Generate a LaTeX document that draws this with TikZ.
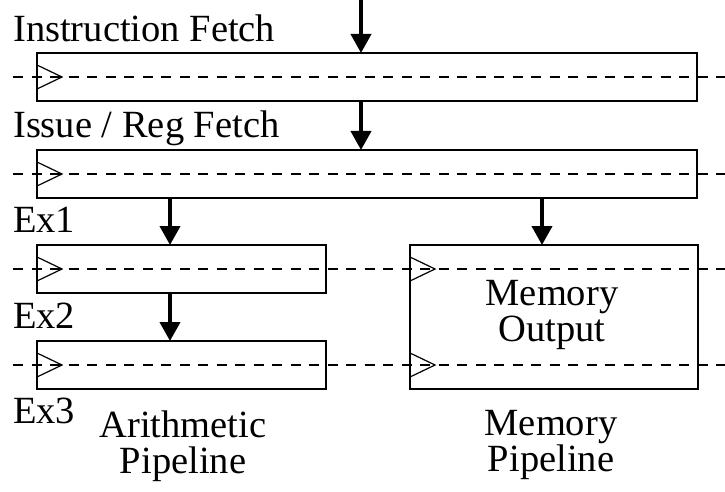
\documentclass[tikz,border=0pt]{standalone}
\usepackage{fontspec}
\setmainfont{Liberation Serif}
\usetikzlibrary{arrows.meta}
\begin{document}
\begin{tikzpicture}[x=1pt,y=-1pt,
  reg/.style={draw, line width=1.5pt, inner sep=0pt, outer sep=0pt, anchor=north west},
  wide/.style={reg, minimum width=660pt, minimum height=48pt},
  narrow/.style={reg, minimum width=289pt, minimum height=48pt},
  bus/.style={line width=1.2pt, dash pattern=on 10pt off 8.5pt},
  clkline/.style={line width=1.2pt},
  flow/.style={line width=4pt, -{Triangle[length=19pt,width=20pt]}},
  lbl/.style={font=\fontsize{38.5}{36}\selectfont, inner sep=0pt, anchor=base west},
  caption/.style={font=\fontsize{38.5}{36}\selectfont, inner sep=0pt, anchor=base, align=center}]
  % canvas
  \useasboundingbox (0,0) rectangle (725,492);
  % column guides for the arrows and the bus ends
  \coordinate (top) at (361,0);
  \coordinate (colA) at (170,0);
  \coordinate (colM) at (542,0);
  \coordinate (busL) at (13,0);
  \coordinate (busR) at (725,0);

  % pipeline registers
  \node[wide] (ifr) at (37,53) {};
  \node[wide] (rfr) at (37,150) {};
  \node[narrow] (ex1) at (37,245) {};
  \node[narrow] (ex2) at (37,341) {};
  \node[reg, minimum width=288pt, minimum height=144pt] (mem) at (410,245) {};
  \node[caption] (memtxt) at (552,341) {Memory\\Output};

  % clock buses
  \coordinate (m1) at ([yshift=-24pt]mem.north west);
  \coordinate (m2) at ([yshift=24pt]mem.south west);
  \draw[bus] (ifr.west -| busL) -- (ifr.west -| busR);
  \draw[bus] (rfr.west -| busL) -- (rfr.west -| busR);
  \draw[bus] (ex1.west -| busL) -- (m1 -| busR);
  \draw[bus] (ex2.west -| busL) -- (m2 -| busR);

  % clock inputs
  \foreach \c in {ifr.west, rfr.west, ex1.west, ex2.west, m1, m2}
    \draw[clkline] (\c) ++(0,-12) -- ++(25,12) -- ++(-25,12);

  % data flow
  \draw[flow] (top) -- (ifr.north -| top);
  \draw[flow] (ifr.south -| top) -- (rfr.north -| top);
  \draw[flow] (rfr.south -| colA) -- (ex1.north -| colA);
  \draw[flow] (rfr.south -| colM) -- (mem.north -| colM);
  \draw[flow] (ex1.south -| colA) -- (ex2.north -| colA);

  % stage labels
  \node[lbl] (tif) at (13,42) {Instruction Fetch};
  \node[lbl] (trf) at (13,138) {Issue / Reg Fetch};
  \node[lbl] (tx1) at (13,232) {Ex1};
  \node[lbl] (tx2) at (13,328) {Ex2};
  \node[lbl] (tx3) at (13,423) {Ex3};

  % pipeline names
  \node[caption] (arith) at (183,473) {Arithmetic\\Pipeline};
  \node[caption] (mpipe) at (551,471) {Memory\\Pipeline};
\end{tikzpicture}
\end{document}
